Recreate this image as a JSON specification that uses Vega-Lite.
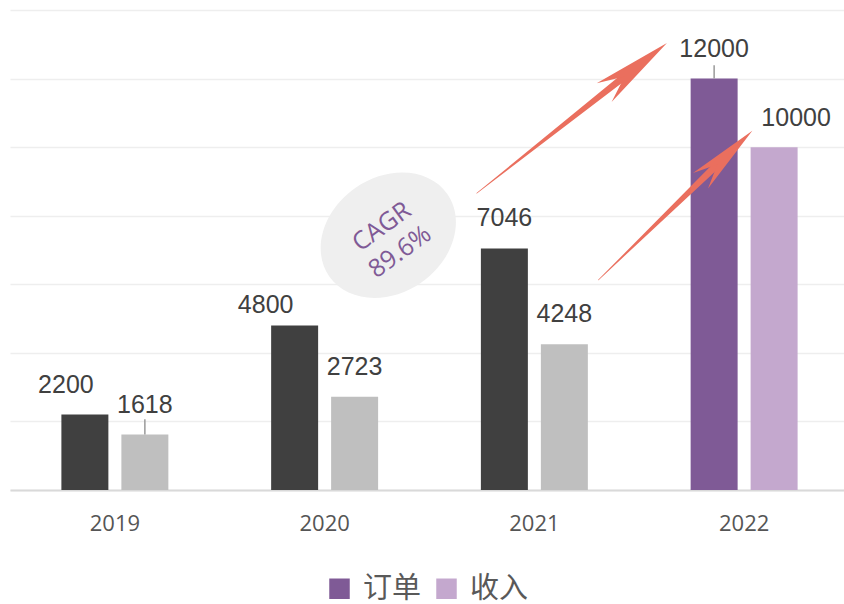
{
  "$schema": "https://vega.github.io/schema/vega-lite/v6.json",
  "width": 839,
  "height": 480,
  "padding": {"left": 10, "top": 10, "right": 0, "bottom": 0},
  "background": "white",
  "config": {
    "view": {"stroke": null},
    "axisX": {"grid": false},
    "axisY": {"grid": true, "gridColor": "#eeeeee", "gridWidth": 1.5, "labels": false, "ticks": false, "domain": false, "title": null}
  },
  "datasets": {
    "bars": [
      {"year": "2019", "series": "订单", "value": 2200, "group": "订单 往年"},
      {"year": "2019", "series": "收入", "value": 1618, "group": "收入 往年"},
      {"year": "2020", "series": "订单", "value": 4800, "group": "订单 往年"},
      {"year": "2020", "series": "收入", "value": 2723, "group": "收入 往年"},
      {"year": "2021", "series": "订单", "value": 7046, "group": "订单 往年"},
      {"year": "2021", "series": "收入", "value": 4248, "group": "收入 往年"},
      {"year": "2022", "series": "订单", "value": 12000, "group": "订单"},
      {"year": "2022", "series": "收入", "value": 10000, "group": "收入"}
    ],
    "leaders": [
      {"year": "2019", "series": "收入", "from": 1618, "to": 2060},
      {"year": "2022", "series": "订单", "from": 12000, "to": 12390}
    ],
    "ellipse": [
      {"x": 1.8036, "y": 7429}
    ],
    "cagr": [
      {"x": 1.772, "y": 7680, "line1": "CAGR", "line2": "89.6%"}
    ],
    "arrows": [
      {"arrow": "a", "pt": 0, "x": 2.225, "y": 8654},
      {"arrow": "a", "pt": 1, "x": 2.964, "y": 12224},
      {"arrow": "b", "pt": 0, "x": 2.805, "y": 6125},
      {"arrow": "b", "pt": 1, "x": 3.402, "y": 9669}
    ],
    "heads": [
      {"arrow": "a", "x": 3.132, "y": 13037},
      {"arrow": "b", "x": 3.539, "y": 10480}
    ]
  },
  "resolve": {"scale": {"x": "independent", "y": "independent"}},
  "layer": [
    {
      "encoding": {
        "x": {
          "field": "year", "type": "nominal",
          "scale": {"domain": ["2019", "2020", "2021", "2022"], "paddingInner": 0.49, "paddingOuter": 0.245},
          "axis": {"title": null, "labelAngle": 0, "labelFont": "Open Sans", "labelFontSize": 22, "labelColor": "#555555", "labelPadding": 23, "ticks": false, "domainColor": "#d9d9d9", "domainWidth": 2}
        },
        "xOffset": {"field": "series", "type": "nominal", "sort": ["订单", "收入"], "scale": {"domain": ["订单", "收入"], "paddingInner": 0.2167, "paddingOuter": 0}},
        "y": {"field": "value", "type": "quantitative", "scale": {"domain": [0, 14000], "nice": false}, "axis": {"values": [0, 2000, 4000, 6000, 8000, 10000, 12000, 14000], "title": null}}
      },
      "layer": [
        {
          "data": {"name": "bars"},
          "mark": {"type": "bar"},
          "encoding": {
            "color": {
              "field": "group", "type": "nominal",
              "scale": {"domain": ["订单", "收入", "订单 往年", "收入 往年"], "range": ["#7f5a96", "#c4a8ce", "#404040", "#bfbfbf"]},
              "legend": {"values": ["订单", "收入"], "title": null, "orient": "none", "legendX": 315, "legendY": 564, "direction": "horizontal", "padding": 0, "symbolType": "square", "symbolSize": 420, "symbolStrokeWidth": 0, "labelFont": "Noto Sans CJK SC", "labelFontSize": 29, "labelColor": "#595959", "labelOffset": 9, "columnPadding": 10}
            }
          }
        },
        {
          "data": {"name": "leaders"},
          "mark": {"type": "rule", "color": "#999999", "strokeWidth": 1.5},
          "encoding": {
            "y": {"field": "from", "type": "quantitative"},
            "y2": {"field": "to"}
          }
        },
        {
          "data": {"name": "bars"},
          "transform": [{"filter": "!((datum.year == '2019' && datum.series == '订单') || (datum.year == '2020' && datum.series == '订单') || (datum.year == '2022' && datum.series == '收入'))"}],
          "mark": {"type": "text", "font": "Liberation Sans", "fontSize": 25, "color": "#404040", "baseline": "alphabetic", "dy": -22},
          "encoding": {"text": {"field": "value", "type": "quantitative", "format": "d"}}
        },
        {
          "data": {"name": "bars"},
          "transform": [{"filter": "datum.year == '2019' && datum.series == '订单'"}],
          "mark": {"type": "text", "font": "Liberation Sans", "fontSize": 25, "color": "#404040", "baseline": "alphabetic", "dy": -22, "dx": -19},
          "encoding": {"text": {"field": "value", "type": "quantitative", "format": "d"}}
        },
        {
          "data": {"name": "bars"},
          "transform": [{"filter": "datum.year == '2020' && datum.series == '订单'"}],
          "mark": {"type": "text", "font": "Liberation Sans", "fontSize": 25, "color": "#404040", "baseline": "alphabetic", "dy": -12, "dx": -29},
          "encoding": {"text": {"field": "value", "type": "quantitative", "format": "d"}}
        },
        {
          "data": {"name": "bars"},
          "transform": [{"filter": "datum.year == '2022' && datum.series == '收入'"}],
          "mark": {"type": "text", "font": "Liberation Sans", "fontSize": 25, "color": "#404040", "baseline": "alphabetic", "dy": -21, "dx": 22},
          "encoding": {"text": {"field": "value", "type": "quantitative", "format": "d"}}
        }
      ]
    },
    {
      "encoding": {
        "x": {"field": "x", "type": "quantitative", "scale": {"domain": [0, 4], "nice": false, "zero": false}, "axis": null},
        "y": {"field": "y", "type": "quantitative", "scale": {"domain": [0, 14000], "nice": false}, "axis": null}
      },
      "layer": [
        {
          "data": {"name": "ellipse"},
          "mark": {"type": "point", "shape": "M-1,0 A1,0.8 0 1,1 1,0 A1,0.8 0 1,1 -1,0 Z", "size": 20736, "angle": -35, "filled": true, "color": "#efefef", "opacity": 1, "strokeWidth": 0}
        },
        {
          "data": {"name": "cagr"},
          "mark": {"type": "text", "font": "Open Sans", "fontSize": 25, "color": "#7f5a96", "angle": -36, "align": "center", "baseline": "middle", "lineHeight": 31},
          "encoding": {"text": {"field": "lines", "type": "nominal"}},
          "transform": [{"calculate": "[datum.line1, datum.line2]", "as": "lines"}]
        },
        {
          "data": {"name": "arrows"},
          "mark": {"type": "trail", "color": "#ea6f5e"},
          "encoding": {
            "detail": {"field": "arrow", "type": "nominal"},
            "order": {"field": "pt", "type": "quantitative"},
            "size": {"field": "pt", "type": "quantitative", "scale": {"domain": [0, 1], "range": [0.5, 7.5]}, "legend": null}
          }
        },
        {
          "data": {"name": "heads"},
          "transform": [{"filter": "datum.arrow == 'a'"}],
          "mark": {"type": "point", "shape": "M0,0 L0.3,2 L0,1.35 L-0.3,2 Z", "size": 6400, "angle": 51.7, "filled": true, "color": "#ea6f5e", "opacity": 1, "strokeWidth": 0}
        },
        {
          "data": {"name": "heads"},
          "transform": [{"filter": "datum.arrow == 'b'"}],
          "mark": {"type": "point", "shape": "M0,0 L0.3,2 L0,1.35 L-0.3,2 Z", "size": 5184, "angle": 46, "filled": true, "color": "#ea6f5e", "opacity": 1, "strokeWidth": 0}
        }
      ]
    }
  ]
}
